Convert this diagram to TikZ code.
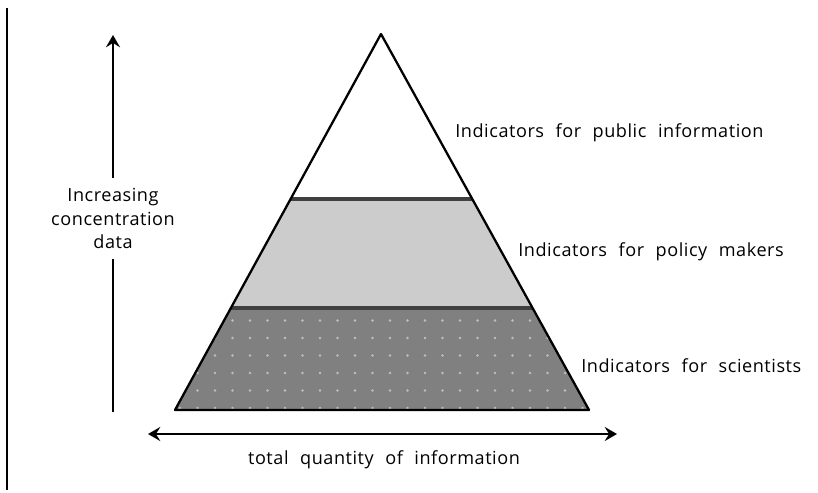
\documentclass[tikz,border=0pt]{standalone}
\usepackage{fontspec}
\setmainfont{Open Sans}[LetterSpace=3, WordSpace=2.2]
\usetikzlibrary{arrows.meta}
\tikzset{
    layer/.style={draw=black, line width=1.3pt, line join=round},
    seam/.style={draw=black!75, line width=2.4pt},
    axis/.style={line width=1.2pt},
    axisarrow/.style={axis, -{Stealth[length=7pt, width=8pt, inset=2.5pt]}},
    both/.style={axis, {Stealth[length=7pt, width=8pt, inset=2.5pt]}-{Stealth[length=7pt, width=8pt, inset=2.5pt]}},
    label/.style={font=\fontsize{10.3}{13.4}\selectfont, inner sep=0pt},
    tag/.style={label, anchor=base west},
}

\begin{document}
\begin{tikzpicture}[x=0.02cm, y=-0.02cm]
    \path[use as bounding box] (0,0) rectangle (818,493);

    % pyramid corners and the two band edges
    \coordinate (apex) at (381,34);
    \coordinate (baseL) at (175,410);
    \coordinate (baseR) at (589,410);
    \coordinate (topL) at (290.6,199);
    \coordinate (topR) at (472,199);
    \coordinate (midL) at (231,308);
    \coordinate (midR) at (532.6,308);

    % bands
    \fill[white] (apex) -- (topR) -- (topL) -- cycle;
    \fill[black!20] (topL) -- (topR) -- (midR) -- (midL) -- cycle;
    \fill[black!50] (midL) -- (midR) -- (baseR) -- (baseL) -- cycle;
    \begin{scope}
        \clip (midL) -- (midR) -- (baseR) -- (baseL) -- cycle;
        \foreach \j in {0,...,5} {
            \foreach \k in {0,...,23} {
                \fill[black!25] (180+17.5*\k,320.5+17.5*\j) circle (0.8pt);
            }
        }
    \end{scope}
    \draw[seam] (topL) -- (topR);
    \draw[seam] (midL) -- (midR);
    \draw[layer] (apex) -- (baseR) -- (baseL) -- cycle;

    % band labels
    \node[tag] (public) at (455,138) {Indicators for public information};
    \node[tag] (policy) at (518,256) {Indicators for policy makers};
    \node[tag] (science) at (581,372) {Indicators for scientists};

    % vertical axis
    \node[label, inner ysep=5.5pt, align=center] (conc) at (113,218.5)
        {Increasing\\concentration\\data};
    \coordinate (upTop) at (113,35);
    \coordinate (upBot) at (113,412);
    \draw[axisarrow] (conc.north) -- (upTop);
    \draw[axis] (upBot) -- (conc.south);

    % horizontal axis
    \coordinate (wideL) at (148,434);
    \coordinate (wideR) at (617,434);
    \draw[both] (wideL) -- (wideR);
    \node[label, anchor=base] (total) at (384,464)
        {total quantity of information};

    % margin rule
    \coordinate (ruleTop) at (7,8);
    \coordinate (ruleBot) at (7,490);
    \draw[axis] (ruleTop) -- (ruleBot);
\end{tikzpicture}
\end{document}
